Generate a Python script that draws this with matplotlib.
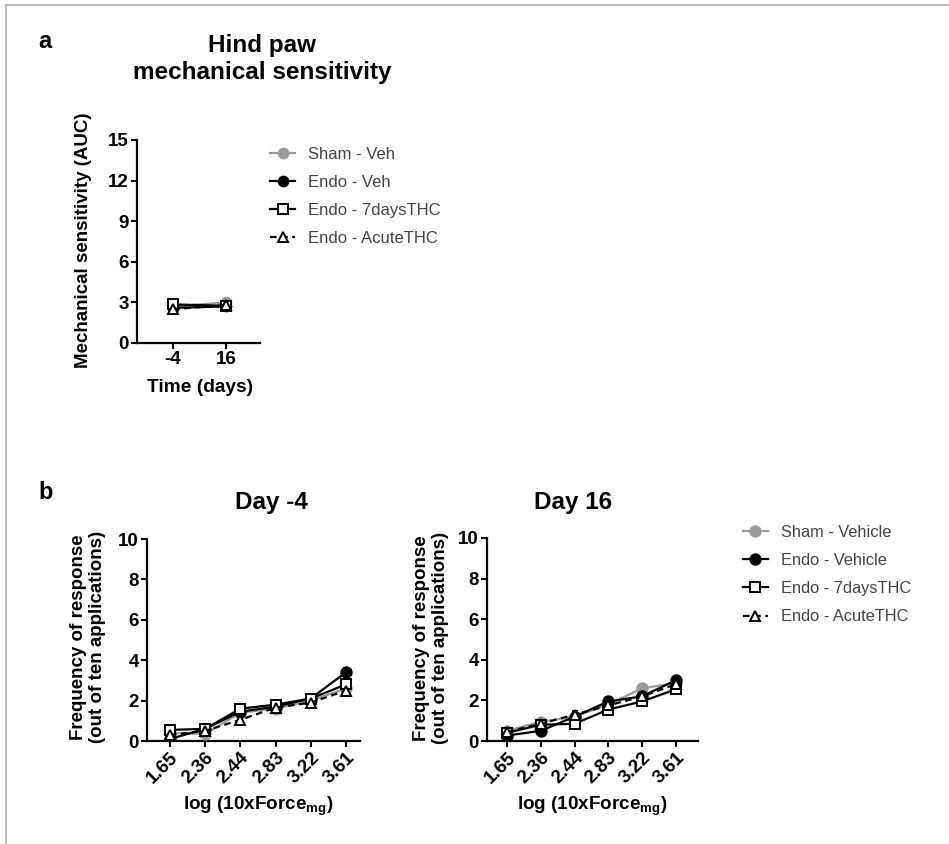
import numpy as np
import matplotlib
matplotlib.use("Agg")
import matplotlib.pyplot as plt
from matplotlib.lines import Line2D

plt.rcParams['font.family'] = ['Liberation Sans', 'DejaVu Sans']
plt.rcParams['mathtext.default'] = 'regular'

# panel a: AUC
days = ['-4', '16']
auc_sham = [2.7, 3.0]
auc_sham_err = [0.15, 0.25]
auc_endo_veh = [2.6, 2.7]
auc_endo_veh_err = [0.15, 0.15]
auc_7d = [2.85, 2.75]
auc_7d_err = [0.1, 0.15]
auc_acute = [2.5, 2.8]
auc_acute_err = [0.15, 0.15]

# panel b: frequency of response
forces = ['1.65', '2.36', '2.44', '2.83', '3.22', '3.61']
d4_sham = [0.4, 0.35, 1.4, 1.6, 2.0, 2.6]
d4_endo_veh = [0.1, 0.6, 1.45, 1.7, 2.1, 3.4]
d4_7d = [0.55, 0.6, 1.6, 1.8, 2.1, 2.8]
d4_acute = [0.3, 0.5, 1.05, 1.65, 1.9, 2.5]
d4_err = [0.15, 0.1, 0.15, 0.12, 0.12, 0.2]

d16_sham = [0.5, 0.95, 1.2, 1.8, 2.6, 2.85]
d16_endo_veh = [0.27, 0.5, 1.2, 1.95, 2.2, 3.0]
d16_7d = [0.4, 0.8, 0.85, 1.55, 1.95, 2.55]
d16_acute = [0.45, 0.85, 1.3, 1.75, 2.2, 2.8]
d16_err = [0.1, 0.12, 0.2, 0.12, 0.15, 0.15]

labels_a = ['Sham - Veh', 'Endo - Veh', 'Endo - 7daysTHC', 'Endo - AcuteTHC']
labels_b = ['Sham - Vehicle', 'Endo - Vehicle', 'Endo - 7daysTHC', 'Endo - AcuteTHC']

GRAY = '#9a9a9a'
styles = [
    dict(color=GRAY, marker='o', mfc=GRAY, mec=GRAY, ls='-'),
    dict(color='black', marker='o', mfc='black', mec='black', ls='-'),
    dict(color='black', marker='s', mfc='white', mec='black', ls='-'),
    dict(color='black', marker='^', mfc='white', mec='black', ls=(0, (3, 2))),
]

W, H = 949, 844
fig = plt.figure(figsize=(W / 100, H / 100), dpi=100)


def fx(px):
    return px / W


def fy(py):
    return 1 - py / H


def style_axes(ax):
    for s in ['top', 'right']:
        ax.spines[s].set_visible(False)
    for s in ['left', 'bottom']:
        ax.spines[s].set_linewidth(1.6)
    ax.tick_params(width=1.5, length=4, labelsize=13.5, pad=2)
    for t in ax.get_xticklabels() + ax.get_yticklabels():
        t.set_fontweight('bold')


def draw(ax, series, errs, x, msize):
    handles = []
    for ys, er, st in zip(series, errs, styles):
        ax.errorbar(x, ys, yerr=er, fmt='none', ecolor=st['color'], elinewidth=1.3,
                    capsize=2, capthick=1.3, zorder=2)
        h, = ax.plot(x, ys, linestyle=st['ls'], color=st['color'], lw=1.6,
                     marker=st['marker'], mfc=st['mfc'], mec=st['mec'], mew=1.4,
                     ms=msize, zorder=3)
        handles.append(h)
    return handles


# ---------- panel a ----------
axa = fig.add_axes([fx(137), fy(343), fx(260) - fx(137), fy(140) - fy(343)])
xa = np.arange(len(days))
ha = draw(axa, [auc_sham, auc_endo_veh, auc_7d, auc_acute],
          [auc_sham_err, auc_endo_veh_err, auc_7d_err, auc_acute_err], xa, 7)
axa.set_xlim(-0.68, 1.64)
axa.set_ylim(0, 15)
axa.set_yticks(np.arange(0, 16, 3))
axa.set_xticks(xa)
axa.set_xticklabels(days)
style_axes(axa)
axa.legend(ha, labels_a, loc='upper left', bbox_to_anchor=(fx(270), fy(147)),
           bbox_transform=fig.transFigure, frameon=False, fontsize=12,
           handlelength=1.5, handletextpad=0.8, labelspacing=0.78,
           borderpad=0, borderaxespad=0, labelcolor='#444444')

fig.text(fx(38), fy(42), 'a', fontsize=17, fontweight='bold', ha='left', va='center')
fig.text(fx(262), fy(59), 'Hind paw\nmechanical sensitivity', fontsize=17.5,
         fontweight='bold', ha='center', va='center', linespacing=1.2)
fig.text(fx(83), fy(240), 'Mechanical sensitivity (AUC)', rotation=90, fontsize=13.5,
         fontweight='bold', ha='center', va='center')
fig.text(fx(200), fy(388), 'Time (days)', fontsize=13.8, fontweight='bold',
         ha='center', va='center')

# ---------- panel b ----------
xb = np.arange(len(forces))
axl = fig.add_axes([fx(147), fy(741), fx(360) - fx(147), fy(539) - fy(741)])
draw(axl, [d4_sham, d4_endo_veh, d4_7d, d4_acute], [d4_err] * 4, xb, 7.5)
axr = fig.add_axes([fx(487), fy(741), fx(698) - fx(487), fy(538) - fy(741)])
hb = draw(axr, [d16_sham, d16_endo_veh, d16_7d, d16_acute], [d16_err] * 4, xb, 7.5)
axl.set_xlim(-0.65, 5.4)
axr.set_xlim(-0.59, 5.65)
for ax in (axl, axr):
    ax.set_ylim(0, 10)
    ax.set_yticks(np.arange(0, 11, 2))
    ax.set_xticks(xb)
    ax.set_xticklabels(forces, rotation=45, ha='right', rotation_mode='anchor')
    style_axes(ax)

axr.legend(hb, labels_b, loc='upper left', bbox_to_anchor=(fx(743), fy(525)),
           bbox_transform=fig.transFigure, frameon=False, fontsize=11.8,
           handlelength=1.5, handletextpad=0.8, labelspacing=0.8,
           borderpad=0, borderaxespad=0, labelcolor='#444444')

fig.text(fx(38), fy(493), 'b', fontsize=17, fontweight='bold', ha='left', va='center')
fig.text(fx(271), fy(502), 'Day -4', fontsize=17.5, fontweight='bold', ha='center', va='center')
fig.text(fx(573), fy(502), 'Day 16', fontsize=17.5, fontweight='bold', ha='center', va='center')
ylab = 'Frequency of response\n(out of ten applications)'
fig.text(fx(88), fy(637), ylab, rotation=90, fontsize=13.5, fontweight='bold',
         ha='center', va='center', linespacing=1.1)
fig.text(fx(431), fy(638), ylab, rotation=90, fontsize=13.5, fontweight='bold',
         ha='center', va='center', linespacing=1.1)
xlab = 'log (10xForce$_{mg}$)'
fig.text(fx(258), fy(806), xlab, fontsize=13.6, fontweight='bold', ha='center', va='center')
fig.text(fx(592), fy(806), xlab, fontsize=13.6, fontweight='bold', ha='center', va='center')

# thin frame along top and left edge
fig.add_artist(Line2D([fx(6), 1], [fy(5), fy(5)], color='#bbbbbb', lw=1.5))
fig.add_artist(Line2D([fx(6), fx(6)], [0, fy(5)], color='#bbbbbb', lw=1.5))

fig.savefig('out.png', dpi=100)
